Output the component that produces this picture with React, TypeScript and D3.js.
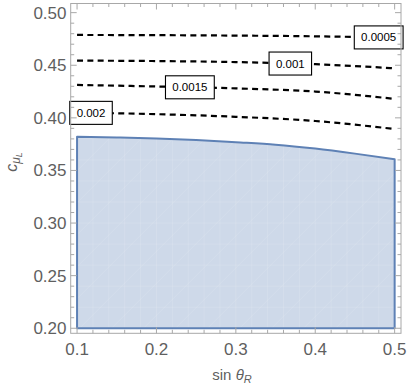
import React from "react";
import * as d3 from "d3";

// ---- data ----
const xGrid = [0.1, 0.2, 0.3, 0.4, 0.5];
const contour0005 = [0.4788, 0.4786, 0.4782, 0.4775, 0.4762];
const contour001 = [0.4544, 0.454, 0.453, 0.451, 0.4471];
const contour0015 = [0.4313, 0.4298, 0.428, 0.425, 0.418];
const contour002 = [0.405, 0.4035, 0.401, 0.397, 0.3894];
const contourLabels = ["0.0005", "0.001", "0.0015", "0.002"];
const contourLabelX = [0.4799, 0.3686, 0.2421, 0.1176];

const regionX = [0.1, 0.15, 0.2, 0.25, 0.3, 0.35, 0.4, 0.45, 0.5];
const regionTop = [0.382, 0.3813, 0.3803, 0.3789, 0.3768, 0.3745, 0.3708, 0.366, 0.3606];
const regionBottom = 0.2;

const xTicks = [0.1, 0.2, 0.3, 0.4, 0.5];
const xTickLabels = ["0.1", "0.2", "0.3", "0.4", "0.5"];
const yTicks = [0.2, 0.25, 0.3, 0.35, 0.4, 0.45, 0.5];
const yTickLabels = ["0.20", "0.25", "0.30", "0.35", "0.40", "0.45", "0.50"];

export default function App() {
  const W = 409, H = 387;
  const left = 70.7, right = 401, top = 3.5, bottom = 333.3;
  const x = d3.scaleLinear().domain([0.092, 0.508]).range([left, right]);
  const y = d3.scaleLinear().domain([0.1952, 0.5087]).range([bottom, top]);

  const font = "'Liberation Sans', Arial, sans-serif";
  const frameColor = "#a8a8a8";
  const labelColor = "#5f5f5f";

  const contours = [contour0005, contour001, contour0015, contour002];
  const line = d3
    .line<number>()
    .x((_, i) => x(xGrid[i]))
    .y((d) => y(d))
    .curve(d3.curveMonotoneX);

  const interp = (arr: number[], xv: number) => {
    const i = Math.min(xGrid.length - 2, Math.max(0, Math.floor((xv - xGrid[0]) / 0.1)));
    const t = (xv - xGrid[i]) / (xGrid[i + 1] - xGrid[i]);
    return arr[i] + t * (arr[i + 1] - arr[i]);
  };

  const area = d3
    .area<number>()
    .x((_, i) => x(regionX[i]))
    .y0(() => y(regionBottom))
    .y1((d) => y(d))
    .curve(d3.curveMonotoneX);
  const regionPath = area(regionTop) || "";

  // minor ticks
  const xMinor = d3.range(0.1, 0.5001, 0.02);
  const yMinor = d3.range(0.2, 0.5001, 0.01);
  const isMajorX = (v: number) => xTicks.some((t) => Math.abs(t - v) < 1e-6);
  const isMajorY = (v: number) => yTicks.some((t) => Math.abs(t - v) < 1e-6);

  // decorative mesh inside the region
  const meshX = d3.range(0.1, 0.5001, 0.02);
  const meshY = d3.range(0.2, 0.4, 0.02);
  const x0 = x(0.1), x1 = x(0.5), yb = y(0.2);
  const span = x1 - x0;
  const diagOffsets = d3.range(-span, 260, 32);

  return (
    <svg
      width={W}
      height={H}
      style={{ position: "absolute", left: 0, top: 0, background: "#fff" }}
    >
      <defs>
        <clipPath id="regionClip">
          <path d={regionPath} />
        </clipPath>
      </defs>
      <path d={regionPath} fill="#5e81b5" fillOpacity={0.3} stroke="none" />
      <g clipPath="url(#regionClip)" stroke="#ffffff" strokeOpacity={0.22} strokeWidth={0.6}>
        {meshX.map((v, i) => (
          <line key={"mx" + i} x1={x(v)} x2={x(v)} y1={y(0.2)} y2={y(0.4)} />
        ))}
        {meshY.map((v, i) => (
          <line key={"my" + i} x1={x0} x2={x1} y1={y(v)} y2={y(v)} />
        ))}
        {diagOffsets.map((o, i) => (
          <line key={"md" + i} x1={x0 + o} y1={yb} x2={x0 + o + span} y2={yb - span} />
        ))}
      </g>
      <path d={regionPath} fill="none" stroke="#5e81b5" strokeWidth={2} strokeLinejoin="round" />

      {contours.map((c, i) => (
        <path
          key={"c" + i}
          d={line(c) || ""}
          fill="none"
          stroke="#000"
          strokeWidth={2.2}
          strokeDasharray="6,4.3"
        />
      ))}

      {contourLabels.map((lab, i) => {
        const lx = x(contourLabelX[i]);
        const ly = y(interp(contours[i], contourLabelX[i]));
        const w = lab.length * 6.3 + 11;
        const h = 23;
        return (
          <g key={"l" + i}>
            <rect x={lx - w / 2} y={ly - h / 2} width={w} height={h} fill="#fff" stroke="#000" strokeWidth={1.1} />
            <text x={lx} y={ly + 4} textAnchor="middle" fontFamily={font} fontSize={11.5} fill="#000">
              {lab}
            </text>
          </g>
        );
      })}

      <rect x={left} y={top} width={right - left} height={bottom - top} fill="none" stroke={frameColor} strokeWidth={1} />

      <g stroke={frameColor} strokeWidth={1}>
        {xMinor.map((v, i) => {
          const len = isMajorX(v) ? 6 : 3.5;
          return (
            <g key={"xt" + i}>
              <line x1={x(v)} x2={x(v)} y1={bottom} y2={bottom - len} />
              <line x1={x(v)} x2={x(v)} y1={top} y2={top + len} />
            </g>
          );
        })}
        {yMinor.map((v, i) => {
          const len = isMajorY(v) ? 6 : 3.5;
          return (
            <g key={"yt" + i}>
              <line x1={left} x2={left + len} y1={y(v)} y2={y(v)} />
              <line x1={right} x2={right - len} y1={y(v)} y2={y(v)} />
            </g>
          );
        })}
      </g>

      {xTicks.map((v, i) => (
        <text key={"xl" + i} x={x(v)} y={355} textAnchor="middle" fontFamily={font} fontSize={17} fill={labelColor}>
          {xTickLabels[i]}
        </text>
      ))}
      {yTicks.map((v, i) => (
        <text key={"yl" + i} x={66.5} y={y(v) + 6} textAnchor="end" fontFamily={font} fontSize={17} fill={labelColor}>
          {yTickLabels[i]}
        </text>
      ))}

      <text x={232} y={380} textAnchor="middle" fontFamily={font} fontSize={15} fill={labelColor}>
        sin{" "}
        <tspan fontStyle="italic">θ</tspan>
        <tspan fontStyle="italic" fontSize={11} dy={3}>R</tspan>
      </text>
      <text
        transform="translate(17,162) rotate(-90)"
        textAnchor="middle"
        fontFamily={font}
        fontSize={16}
        fill={labelColor}
      >
        <tspan fontStyle="italic">c</tspan>
        <tspan fontStyle="italic" fontSize={12} dy={3}>μ</tspan>
        <tspan fontStyle="italic" fontSize={9} dy={2}>L</tspan>
      </text>
    </svg>
  );
}
